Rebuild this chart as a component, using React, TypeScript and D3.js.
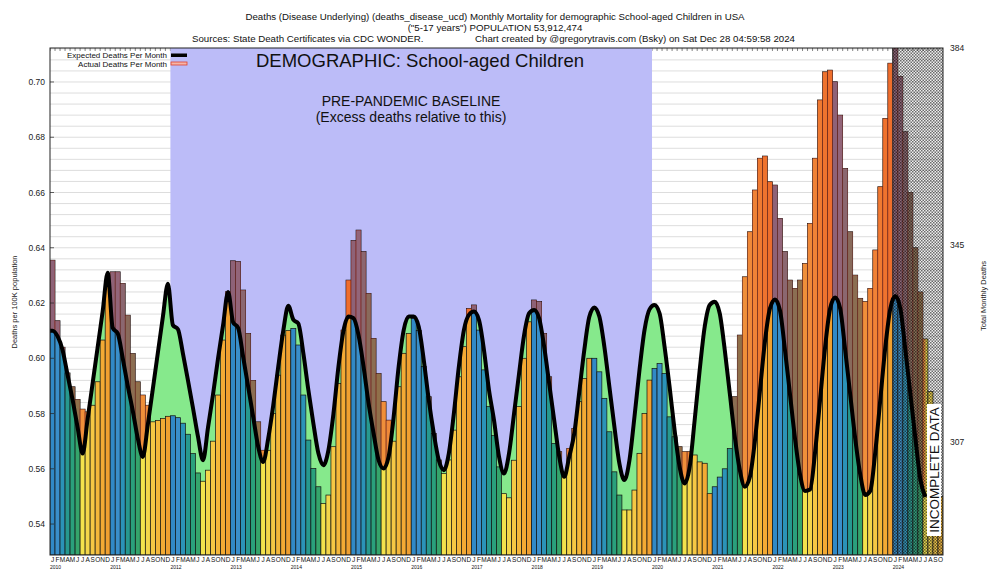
import React from 'react';
import * as d3 from 'd3';

const SANS = "'Liberation Sans', Arial, Helvetica, sans-serif";

const yearLabels = ['2010', '2011', '2012', '2013', '2014', '2015', '2016', '2017', '2018', '2019', '2020', '2021', '2022', '2023', '2024'];
const monthLetters = ['J', 'F', 'M', 'A', 'M', 'J', 'J', 'A', 'S', 'O', 'N', 'D'];
const monthColors = ['#3189c6', '#3a8fca', '#2b93b8', '#27998f', '#2aa07c', '#35a56c', '#f3e24c', '#f4d64a', '#f5c844', '#f4b83a', '#f3aa34', '#f0a030'];

// deaths per 100k, Jan 2010 .. Oct 2024
const actualRate = [
  0.6355, 0.6136, 0.6040, 0.5947, 0.5897, 0.5851, 0.5816, 0.5806, 0.5830, 0.5915, 0.6066, 0.6280,
  0.6313, 0.6313, 0.6271, 0.6156, 0.6017, 0.5915, 0.5867, 0.5830, 0.5770, 0.5775, 0.5782, 0.5790,
  0.5792, 0.5785, 0.5765, 0.5725, 0.5655, 0.5585, 0.5555, 0.5595, 0.5700, 0.5867, 0.6066, 0.6241,
  0.6353, 0.6350, 0.6247, 0.6090, 0.5920, 0.5770, 0.5667, 0.5667, 0.5800, 0.5939, 0.6084, 0.6100,
  0.6108, 0.6048, 0.5867, 0.5704, 0.5601, 0.5535, 0.5474, 0.5505, 0.5680, 0.5909, 0.6102, 0.6283,
  0.6426, 0.6464, 0.6386, 0.6235, 0.6072, 0.5945, 0.5843, 0.5776, 0.5700, 0.5897, 0.6018, 0.6090,
  0.6145, 0.6100, 0.5970, 0.5861, 0.5728, 0.5632, 0.5583, 0.5632, 0.5740, 0.5933, 0.6042, 0.6180,
  0.6193, 0.6102, 0.5958, 0.5825, 0.5720, 0.5607, 0.5510, 0.5495, 0.5631, 0.5825, 0.6000, 0.6132,
  0.6211, 0.6205, 0.6090, 0.5933, 0.5692, 0.5662, 0.5571, 0.5674, 0.5746, 0.5843, 0.5927, 0.6000,
  0.6000, 0.5951, 0.5855, 0.5734, 0.5589, 0.5505, 0.5451, 0.5451, 0.5523, 0.5656, 0.5800, 0.5921,
  0.5963, 0.5981, 0.5945, 0.5788, 0.5716, 0.5680, 0.5662, 0.5662, 0.5650, 0.5625, 0.5620, 0.5510,
  0.5535, 0.5570, 0.5600, 0.5673, 0.5861, 0.6084, 0.6295, 0.6458, 0.6609, 0.6724, 0.6732, 0.6639,
  0.6627, 0.6506, 0.6386, 0.6283, 0.6253, 0.6283, 0.6343, 0.6488, 0.6724, 0.6935, 0.7037, 0.7043,
  0.7001, 0.6880, 0.6687, 0.6458, 0.6301, 0.6217, 0.6205, 0.6253, 0.6392, 0.6621, 0.6868, 0.7068,
  0.7123, 0.7020, 0.6820, 0.6600, 0.6400, 0.6240, 0.6070, 0.5880, 0.5680, 0.5500,
];

// expected deaths per 100k, Jan 2010 .. Jul 2024
const expectedRate = [
  0.6100, 0.6080, 0.6030, 0.5940, 0.5850, 0.5750, 0.5655, 0.5780, 0.5910, 0.6040, 0.6170, 0.6310,
  0.6110, 0.6090, 0.6000, 0.5900, 0.5810, 0.5710, 0.5643, 0.5760, 0.5890, 0.6020, 0.6150, 0.6270,
  0.6120, 0.6105, 0.6017, 0.5920, 0.5820, 0.5716, 0.5631, 0.5750, 0.5870, 0.6000, 0.6120, 0.6240,
  0.6130, 0.6110, 0.6005, 0.5897, 0.5788, 0.5680, 0.5625, 0.5710, 0.5830, 0.5970, 0.6100, 0.6190,
  0.6140, 0.6126, 0.6018, 0.5885, 0.5764, 0.5656, 0.5613, 0.5668, 0.5800, 0.5970, 0.6100, 0.6151,
  0.6145, 0.6084, 0.5970, 0.5837, 0.5728, 0.5631, 0.5601, 0.5644, 0.5788, 0.5970, 0.6102, 0.6151,
  0.6151, 0.6114, 0.5994, 0.5849, 0.5728, 0.5631, 0.5595, 0.5656, 0.5800, 0.5970, 0.6102, 0.6157,
  0.6169, 0.6139, 0.6030, 0.5885, 0.5776, 0.5644, 0.5583, 0.5656, 0.5800, 0.5945, 0.6084, 0.6163,
  0.6175, 0.6145, 0.6042, 0.5909, 0.5776, 0.5644, 0.5571, 0.5644, 0.5728, 0.5878, 0.6030, 0.6150,
  0.6184, 0.6151, 0.6042, 0.5897, 0.5752, 0.5619, 0.5559, 0.5631, 0.5788, 0.5957, 0.6102, 0.6177,
  0.6193, 0.6163, 0.6042, 0.5897, 0.5740, 0.5607, 0.5547, 0.5607, 0.5776, 0.5957, 0.6114, 0.6193,
  0.6205, 0.6162, 0.6030, 0.5873, 0.5716, 0.5595, 0.5535, 0.5570, 0.5700, 0.5880, 0.6060, 0.6180,
  0.6213, 0.6174, 0.6030, 0.5870, 0.5710, 0.5580, 0.5520, 0.5525, 0.5660, 0.5850, 0.6040, 0.6180,
  0.6220, 0.6180, 0.6030, 0.5870, 0.5710, 0.5580, 0.5505, 0.5520, 0.5660, 0.5850, 0.6040, 0.6180,
  0.6225, 0.6180, 0.6030, 0.5870, 0.5710, 0.5560, 0.5498,
];

const leftTicks = [0.54, 0.56, 0.58, 0.60, 0.62, 0.64, 0.66, 0.68, 0.70];
const rightTicks = [384, 345.6, 307.2];
const rateDomain = [0.5288, 0.7123];
const population = 53912474;
const baselineFirst = 24; // Jan 2012
const baselineLast = 119; // Dec 2019
const incompleteFirst = 168; // Jan 2024

const App = () => {
  const plot = { left: 50, right: 943, top: 48, bottom: 555 };
  const months = d3.range(actualRate.length);
  const x = d3.scaleBand<number>().domain(months).range([plot.left, plot.right]);
  const bw = x.bandwidth();
  const cx = (i: number) => (x(i) as number) + bw / 2;
  const y = d3.scaleLinear().domain(rateDomain).range([plot.bottom, plot.top]);
  const yDeaths = d3.scaleLinear()
    .domain(rateDomain.map(r => r * population / 1e5))
    .range([plot.bottom, plot.top]);

  const expPoints: [number, number][] = [
    [plot.left, y(expectedRate[0])],
    ...expectedRate.map((v, i) => [cx(i), y(v)] as [number, number]),
  ];
  const line = d3.line().curve(d3.curveMonotoneX);
  const areaAbove = d3.area().curve(d3.curveMonotoneX).y0(plot.top).y1(d => d[1]);
  const areaBelow = d3.area().curve(d3.curveMonotoneX).y0(plot.bottom).y1(d => d[1]);

  const grid = d3.range(0.532, rateDomain[1], 0.004);
  const fmt = d3.format('.2f');
  const bandX0 = x(baselineFirst) as number;
  const bandX1 = (x(baselineLast) as number) + bw;
  const hatchX = x(incompleteFirst) as number;

  return (
    <svg width={990} height={570} style={{ position: 'absolute', left: 0, top: 0, background: '#fff' }}
      fontFamily={SANS}>
      <defs>
        <clipPath id="barsClip">
          {months.map(i => (
            <rect key={i} x={x(i)} y={y(actualRate[i])} width={bw} height={plot.bottom - y(actualRate[i])} />
          ))}
        </clipPath>
        <clipPath id="plotClip">
          <rect x={plot.left} y={plot.top} width={plot.right - plot.left} height={plot.bottom - plot.top} />
        </clipPath>
        <pattern id="hatch" width={3} height={3} patternUnits="userSpaceOnUse">
          <rect width={3} height={3} fill="rgba(120,120,120,0.12)" />
          <rect width={1.5} height={1.5} fill="rgba(0,0,0,0.55)" />
          <rect x={1.5} y={1.5} width={1.5} height={1.5} fill="rgba(0,0,0,0.55)" />
        </pattern>
      </defs>

      {/* title */}
      <g fontSize={9.7} textAnchor="middle" fill="#111">
        <text x={495} y={19.5}>Deaths (Disease Underlying) (deaths_disease_ucd) Monthly Mortality for demographic School-aged Children in USA</text>
        <text x={495} y={30.5}>("5-17 years") POPULATION 53,912,474</text>
        <text x={192} y={41.5} textAnchor="start">Sources: State Death Certificates via CDC WONDER.</text>
        <text x={475} y={41.5} textAnchor="start">Chart created by @gregorytravis.com (Bsky) on Sat Dec 28 04:59:58 2024</text>
      </g>

      <rect x={plot.left} y={plot.top} width={plot.right - plot.left} height={plot.bottom - plot.top} fill="#fff" />

      <g clipPath="url(#plotClip)">
        {grid.map((g, i) => (
          <line key={i} x1={plot.left} x2={plot.right} y1={y(g)} y2={y(g)} stroke="#cfcfcf" strokeWidth={0.7} />
        ))}
        {months.map(i => (
          <line key={i} x1={x(i)} x2={x(i)} y1={plot.top} y2={plot.top + 3} stroke="#333" strokeWidth={0.6} />
        ))}

        <rect x={bandX0} y={plot.top} width={bandX1 - bandX0} height={plot.bottom - plot.top} fill="#bcbcf8" />

        <path d={areaBelow(expPoints) || ''} fill="#86e98c" />

        {months.map(i => (
          <rect key={i} x={x(i)} y={y(actualRate[i])} width={bw} height={plot.bottom - y(actualRate[i])}
            fill={monthColors[i % 12]} stroke="#111" strokeWidth={0.7} />
        ))}

        <g clipPath="url(#barsClip)">
          <path d={areaAbove(expPoints) || ''} fill="rgba(235,60,40,0.5)" />
        </g>

        <rect x={hatchX} y={plot.top} width={plot.right - hatchX} height={plot.bottom - plot.top} fill="url(#hatch)" />
        <line x1={hatchX} x2={hatchX} y1={plot.top} y2={plot.bottom} stroke="#333" strokeWidth={1} />

        <path d={line(expPoints) || ''} fill="none" stroke="#000" strokeWidth={4} strokeLinejoin="round" />
      </g>

      <rect x={plot.left} y={plot.top} width={plot.right - plot.left} height={plot.bottom - plot.top}
        fill="none" stroke="#222" strokeWidth={1} />

      {/* annotations */}
      <text x={420} y={67} textAnchor="middle" fontSize={18.5} fill="#111">DEMOGRAPHIC: School-aged Children</text>
      <text x={411} y={106} textAnchor="middle" fontSize={14} fill="#111">PRE-PANDEMIC BASELINE</text>
      <text x={411} y={122} textAnchor="middle" fontSize={14} fill="#111">(Excess deaths relative to this)</text>

      <g fontSize={8} textAnchor="end" fill="#111">
        <text x={167} y={58}>Expected Deaths Per Month</text>
        <text x={167} y={66.5}>Actual Deaths Per Month</text>
      </g>
      <rect x={171} y={53.5} width={16} height={3.5} fill="#000" />
      <rect x={171} y={62} width={16} height={3} fill="#f6b5a8" stroke="#e0402a" strokeWidth={0.8} />

      <rect x={927} y={404} width={14} height={132} fill="#fff" />
      <text transform="translate(939,470) rotate(-90)" textAnchor="middle" fontSize={13.5} fill="#111">INCOMPLETE DATA</text>

      {/* left axis */}
      <g fontSize={8.5} textAnchor="end" fill="#222">
        {leftTicks.map(t => (
          <g key={t}>
            <line x1={plot.left} x2={plot.left + 4} y1={y(t)} y2={y(t)} stroke="#222" strokeWidth={0.7} />
            <text x={45} y={y(t) + 3}>{fmt(t)}</text>
          </g>
        ))}
      </g>
      <text transform="translate(17,302) rotate(-90)" textAnchor="middle" fontSize={7.5} fill="#222">Deaths per 100K population</text>

      {/* right axis */}
      <g fontSize={8.5} fill="#222">
        {rightTicks.map(t => (
          <text key={t} x={950} y={yDeaths(t) + 3}>{Math.floor(t)}</text>
        ))}
      </g>
      <text transform="translate(986,296) rotate(-90)" textAnchor="middle" fontSize={7.5} fill="#222">Total Monthly Deaths</text>

      {/* bottom axis */}
      <g fontSize={6.5} textAnchor="middle" fill="#111">
        {months.map(i => (
          <text key={i} x={cx(i)} y={561.5}>{monthLetters[i % 12]}</text>
        ))}
      </g>
      <g fontSize={5} fill="#111">
        {yearLabels.map((yl, k) => (
          <text key={yl} x={x(k * 12)} y={568.8}>{yl}</text>
        ))}
      </g>
    </svg>
  );
};

export default App;
